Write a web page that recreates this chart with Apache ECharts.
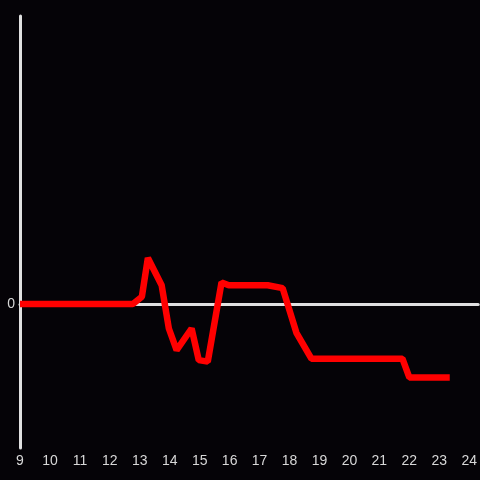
<!DOCTYPE html>
<html><head><meta charset="utf-8">
<script src="https://cdn.jsdelivr.net/npm/echarts@6/dist/echarts.min.js"></script>
<style>html,body{margin:0;padding:0;background:#050307;}#c{width:480px;height:480px;}</style>
</head><body><div id="c"></div>
<script>
var hours = [9.0, 12.77, 13.07, 13.27, 13.73, 13.97, 14.23, 14.73, 14.97, 15.27, 15.73, 15.97, 17.27, 17.77, 18.23, 18.73, 21.77, 22.0, 23.35];
var values = [0, 0, 0.05, 0.32, 0.13, -0.17, -0.32, -0.17, -0.39, -0.40, 0.15, 0.13, 0.13, 0.11, -0.20, -0.38, -0.38, -0.51, -0.51];
var xTicks = [9,10,11,12,13,14,15,16,17,18,19,20,21,22,23,24];
var yTicks = [0];

var chart = echarts.init(document.getElementById('c'), null, {renderer:'canvas'});
var pts = hours.map(function(h,i){return [h, values[i]];});
var labelColor = '#d8d8d8';
chart.setOption({
  backgroundColor: '#050307',
  animation: false,
  grid: {left: 20, right: 0, top: 16, bottom: 32, containLabel: false},
  xAxis: [{
    type: 'value', min: 9, max: 24.3, interval: 1,
    axisLine: {show: true, onZero: true, lineStyle: {color: '#e0e0e0', width: 3}},
    axisTick: {show: false}, axisLabel: {show: false}, splitLine: {show: false}
  },{
    type: 'value', min: 9, max: 24.3, interval: 1, position: 'bottom',
    axisLine: {show: false, onZero: false}, axisTick: {show: false}, splitLine: {show: false},
    axisLabel: {show: true, color: labelColor, fontSize: 14, margin: 6, showMaxLabel: false,
      fontFamily: 'Liberation Sans, Arial, sans-serif',
      formatter: function(v){ return xTicks.indexOf(v) >= 0 ? String(v) : ''; }}
  }],
  yAxis: {
    type: 'value', min: -1, max: 2, interval: 1,
    axisLine: {show: true, lineStyle: {color: '#e0e0e0', width: 3}},
    axisTick: {show: false}, splitLine: {show: false},
    axisLabel: {color: labelColor, fontSize: 14, margin: 5,
      fontFamily: 'Liberation Sans, Arial, sans-serif',
      formatter: function(v){ return yTicks.indexOf(v) >= 0 ? String(v) : ''; }}
  },
  series: [{
    type: 'line', xAxisIndex: 0, data: pts, showSymbol: false,
    lineStyle: {color: '#ff0000', width: 6.5}
  }]
});
</script></body></html>
